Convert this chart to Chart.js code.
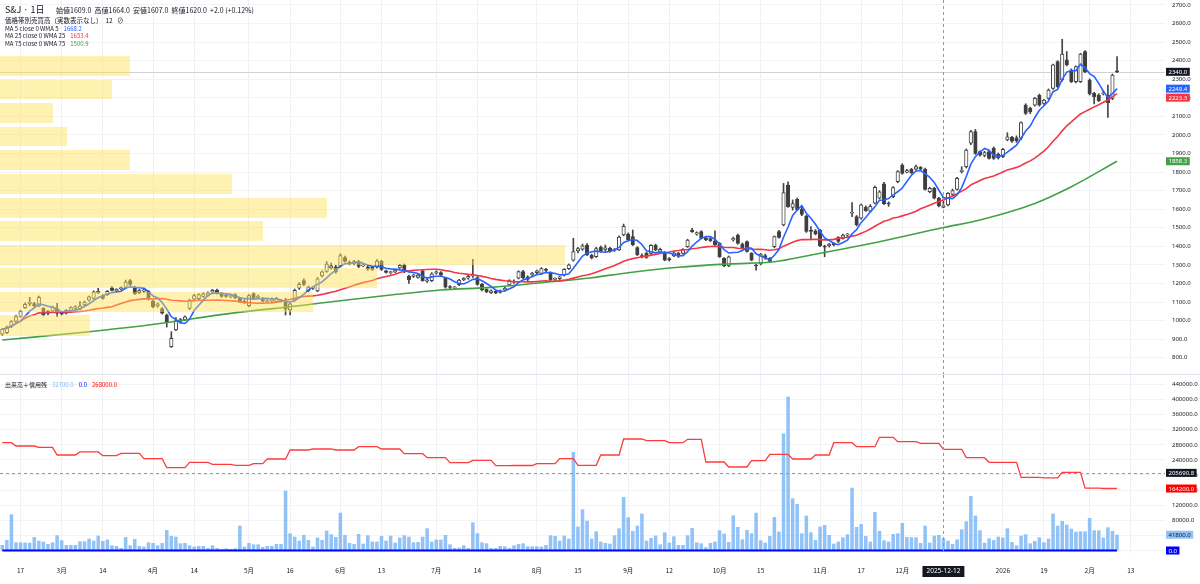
<!DOCTYPE html>
<html lang="ja">
<head>
<meta charset="utf-8">
<title>S&amp;J 日足</title>
<script src="https://cdn.jsdelivr.net/npm/chart.js@4.4.1/dist/chart.umd.min.js"></script>
<style>
  html, body { margin:0; padding:0; background:#fff; }
  body { width:1200px; height:584px; position:relative; overflow:hidden;
         font-family:"Noto Sans CJK JP","Noto Sans",sans-serif; color:#131722; }
  #pane_precio { position:absolute; left:0; top:0; width:1200px; height:374px; }
  #pane_volumen { position:absolute; left:0; top:375px; width:1200px; height:209px; }
  .sep { position:absolute; left:0; top:374px; width:1200px; height:1px; background:#e0e3eb; }
  .lg { position:absolute; left:5px; white-space:nowrap; line-height:1; }
  .lg span { margin-left:5px; }
</style>
</head>
<body>
<div id="pane_precio"><canvas id="chart_precio"></canvas></div>
<div class="sep"></div>
<div id="pane_volumen"><canvas id="chart_volumen"></canvas></div>

<div class="lg" style="top:5px;font-size:9px;">S&amp;J · 1日</div>
<div class="lg" style="top:7px;left:56px;font-size:7px;">始値1609.0 &nbsp;高値1664.0 &nbsp;安値1607.0 &nbsp;終値1620.0 &nbsp;+2.0 (+0.12%)</div>
<div class="lg" style="top:17px;font-size:6.5px;">価格帯別売買高（実数表示なし）&nbsp; 12 &nbsp; ⊘</div>
<div class="lg" style="top:25.5px;font-size:6px;">MA 5 close 0 WMA 5<span style="color:#2962ff">1668.2</span></div>
<div class="lg" style="top:33px;font-size:6px;">MA 25 close 0 WMA 25<span style="color:#f23645">1653.4</span></div>
<div class="lg" style="top:40.5px;font-size:6px;">MA 75 close 0 WMA 75<span style="color:#43a047">1500.9</span></div>
<div class="lg" style="top:382px;font-size:6px;">出来高＋信用残<span style="color:#7fb6f5">32700.0</span><span style="color:#0000ff">0.0</span><span style="color:#ff0000">268000.0</span></div>

<script>
var chart_precio;
var chart_volumen;

// dias sin bolsa (Tokio)
var feriados = ['2025-02-11','2025-02-24','2025-03-20','2025-04-29','2025-05-05','2025-05-06',
  '2025-07-21','2025-08-11','2025-09-15','2025-09-23','2025-10-13','2025-11-03','2025-11-24',
  '2025-12-31','2026-01-01','2026-01-02','2026-01-12'];
var total_velas = 245;   // 2025-02-10 .. 2026-02-10
var dias_futuro = 10;

var etiquetas_x = { '2025-02-17':'17', '2025-03-03':'3月', '2025-03-14':'14', '2025-04-01':'4月',
  '2025-04-14':'14', '2025-05-01':'5月', '2025-05-16':'16', '2025-06-02':'6月', '2025-06-13':'13',
  '2025-07-01':'7月', '2025-07-14':'14', '2025-08-01':'8月', '2025-08-15':'15', '2025-09-01':'9月',
  '2025-09-12':'12', '2025-10-01':'10月', '2025-10-15':'15', '2025-11-04':'11月', '2025-11-17':'17',
  '2025-12-01':'12月', '2026-01-05':'2026', '2026-01-19':'19', '2026-02-02':'2月', '2026-02-13':'13' };

var ticks_precio = [800,900,1000,1100,1200,1300,1400,1500,1600,1700,1800,1900,2000,2100,2200,2300,2400,2500,2600,2700];
var ticks_volumen = [0,40000,80000,120000,160000,200000,240000,280000,320000,360000,400000,440000];

var precio_apertura = [
  927,935,968,995,1022,1070,1090,1092,1078,1066, 1040,1050,1065,1044,1040,1048,1065,1062,1085,1110,
  1120,1150,1135,1140,1177,1160,1170,1178,1215,1180, 1150,1158,1158,1105,1080,1065,1030,860,950,995,
  1005,1066,1115,1118,1130,1135,1152,1163,1145,1135, 1128,1140,1120,1105,1080,1145,1125,1120,1102,1105,
  1102,1110,1100,1058,1110,1175,1215,1160,1175,1160, 1240,1265,1282,1290,1292,1340,1312,1305,1318,1295,
  1290,1288,1288,1320,1268,1258,1262,1284,1300,1240, 1238,1232,1268,1212,1215,1256,1258,1228,1180,1176,
  1193,1220,1228,1240,1232,1195,1168,1150,1158,1152, 1165,1192,1208,1228,1264,1236,1246,1258,1254,1275,
  1258,1222,1226,1246,1280,1326,1375,1384,1407,1352, 1344,1395,1380,1390,1378,1380,1462,1466,1452,1393,
  1350,1362,1362,1405,1372,1366,1334,1348,1362,1362, 1398,1488,1466,1479,1445,1442,1430,1416,1335,1294,
  1434,1461,1412,1425,1362,1298,1305,1350,1335,1398, 1479,1515,1730,1610,1653,1600,1563,1488,1484,1488,
  1400,1402,1416,1448,1443,1460,1578,1560,1551,1610, 1590,1632,1660,1736,1632,1667,1748,1838,1800,1815,
  1815,1825,1815,1694,1712,1659,1609,1623,1680,1707, 1802,1829,1955,2018,1910,1890,1910,1928,1897,1883,
  1973,1987,1985,1982,2161,2143,2161,2215,2170,2197, 2251,2395,2296,2404,2350,2287,2287,2449,2296,2224,
  2215,2222,2215,2197,2344];
var precio_maximo = [
  958,970,1000,1030,1056,1096,1125,1098,1132,1070, 1055,1078,1093,1050,1060,1075,1080,1102,1105,1132,
  1160,1174,1140,1162,1185,1172,1182,1218,1222,1185, 1168,1170,1162,1110,1095,1070,1035,940,1016,1012,
  1025,1115,1142,1145,1150,1155,1168,1170,1150,1140, 1142,1145,1125,1112,1140,1150,1138,1125,1112,1122,
  1125,1115,1120,1095,1170,1205,1225,1186,1185,1232, 1268,1318,1310,1298,1360,1348,1322,1325,1325,1310,
  1296,1292,1328,1325,1272,1266,1275,1304,1305,1245, 1250,1250,1272,1225,1258,1268,1264,1232,1188,1184,
  1222,1232,1245,1330,1238,1200,1172,1165,1162,1165, 1180,1220,1220,1268,1270,1242,1260,1272,1285,1282,
  1262,1230,1240,1280,1305,1443,1395,1412,1415,1358, 1395,1402,1407,1395,1388,1456,1520,1472,1488,1398,
  1360,1368,1410,1412,1390,1372,1340,1370,1368,1388, 1438,1497,1478,1484,1452,1448,1483,1420,1340,1348,
  1450,1466,1418,1430,1366,1305,1362,1358,1340,1456, 1486,1739,1748,1650,1660,1615,1568,1506,1490,1492,
  1406,1416,1420,1452,1466,1470,1635,1566,1628,1618, 1625,1725,1700,1745,1640,1722,1808,1845,1815,1820,
  1838,1830,1822,1718,1718,1664,1664,1690,1708,1772, 1829,1925,2025,2030,1915,1912,1918,1935,1903,1928,
  2012,1992,1995,2070,2168,2150,2202,2220,2192,2248, 2382,2400,2515,2449,2356,2372,2440,2455,2302,2230,
  2222,2238,2269,2328,2422];
var precio_minimo = [
  920,930,962,990,1018,1065,1080,1072,1075,1025, 1030,1045,1021,1030,1035,1045,1060,1058,1080,1105,
  1115,1145,1115,1135,1160,1152,1165,1175,1188,1140, 1145,1152,1110,1068,1072,1035,965,855,945,985,
  1000,1060,1110,1112,1125,1130,1148,1142,1125,1125, 1122,1118,1098,1092,1075,1115,1120,1100,1098,1100,
  1098,1100,1030,1030,1105,1168,1188,1155,1168,1155, 1235,1260,1278,1255,1288,1315,1300,1300,1285,1290,
  1270,1270,1282,1270,1255,1250,1258,1280,1258,1200, 1232,1228,1212,1205,1210,1250,1240,1175,1170,1170,
  1188,1215,1222,1232,1190,1160,1150,1145,1145,1148, 1160,1188,1200,1224,1225,1215,1240,1252,1250,1262,
  1215,1215,1220,1240,1275,1320,1365,1378,1350,1332, 1340,1368,1375,1368,1372,1376,1456,1430,1404,1350,
  1338,1335,1358,1376,1368,1322,1320,1344,1340,1358, 1394,1475,1460,1440,1430,1426,1405,1340,1290,1290,
  1428,1412,1385,1368,1322,1272,1300,1330,1312,1392, 1444,1510,1610,1595,1592,1565,1475,1434,1462,1398,
  1344,1396,1402,1420,1438,1452,1560,1510,1546,1588, 1585,1628,1655,1625,1615,1662,1742,1788,1795,1792,
  1810,1808,1702,1688,1655,1612,1607,1618,1672,1702, 1795,1822,1948,1895,1885,1882,1870,1868,1870,1878,
  1968,1960,1960,1975,2110,2115,2155,2155,2165,2192, 2245,2255,2290,2372,2282,2280,2282,2336,2215,2167,
  2180,2215,2095,2190,2335];
var precio_cierre = [
  953,965,995,1022,1050,1088,1100,1080,1125,1032, 1050,1072,1040,1035,1055,1070,1075,1080,1100,1128,
  1155,1158,1120,1158,1163,1168,1178,1208,1195,1145, 1162,1165,1115,1075,1090,1040,992,905,1000,1005,
  1020,1110,1135,1140,1145,1150,1163,1147,1130,1130, 1135,1123,1102,1100,1134,1120,1132,1105,1108,1118,
  1120,1105,1062,1090,1163,1195,1195,1180,1180,1225, 1262,1305,1295,1262,1350,1318,1308,1318,1292,1300,
  1278,1275,1320,1275,1260,1262,1270,1298,1262,1220, 1245,1245,1215,1220,1252,1262,1245,1180,1178,1180,
  1218,1228,1238,1245,1195,1165,1156,1160,1148,1160, 1174,1215,1212,1264,1230,1222,1254,1268,1280,1270,
  1220,1228,1236,1276,1300,1371,1388,1402,1355,1338, 1388,1372,1392,1372,1383,1450,1508,1435,1408,1355,
  1344,1340,1405,1380,1384,1326,1327,1365,1345,1384, 1434,1479,1474,1443,1436,1430,1407,1344,1294,1344,
  1443,1416,1390,1372,1326,1294,1358,1338,1318,1452, 1448,1689,1614,1630,1596,1572,1480,1480,1466,1402,
  1396,1412,1407,1426,1461,1462,1583,1515,1623,1592, 1615,1718,1694,1630,1628,1716,1802,1793,1808,1797,
  1829,1815,1707,1712,1659,1618,1620,1685,1700,1766, 1811,1919,2018,1901,1892,1905,1874,1874,1876,1922,
  1990,1966,1968,2066,2116,2124,2197,2161,2188,2242, 2377,2260,2436,2377,2287,2368,2436,2341,2221,2206,
  2185,2225,2174,2323,2340];

var volumen = [
  14600,27800,95800,21600,21600,20800,20800,35800,26000,23400, 17200,21600,40200,27000,14600,14600,14600,24300,24300,31300,
  26000,39300,25200,28700,13700,11900,6600,35800,13700,30500, 11900,10200,21600,19900,13700,19900,54300,38400,36600,19000,
  19900,13700,10200,11900,11900,6600,13700,6600,4000,5700, 4000,5700,65800,10200,19900,16300,16300,9300,11900,11900,
  17200,17200,158500,45500,36600,26000,41000,27800,10200,34000, 27800,52500,42800,35800,100000,41000,19900,17200,43700,18100,
  40200,23400,23400,38400,26000,39300,20800,34000,40200,36600, 21600,22500,36600,58700,23400,28700,28700,41000,16300,6600,
  7500,13700,6600,74600,45500,21600,19000,6600,6600,11900, 11000,6600,13700,17200,19000,11000,11000,11000,10200,14600,
  40200,38400,26000,39300,31300,261000,63000,109000,79000,31300, 50800,23400,19900,18100,40200,58700,141700,87900,51700,65800,
  97600,26000,33100,39300,16300,48100,20800,37500,14600,14600, 40200,59600,21600,19000,8400,19900,23400,53400,44600,22500,
  93200,62200,29600,54300,45500,100000,27000,20800,38400,88700, 49900,310000,407500,138200,123200,45500,92300,48100,27800,63100,
  67500,41000,18100,23400,34900,42800,166400,62200,70200,38400, 23400,102000,51700,27000,23400,43700,45500,72800,35800,34900,
  34900,19900,65800,20800,39300,41000,32700,26000,17200,29600, 56100,77300,144400,92300,53400,20800,32200,27800,36600,34000,
  58700,22500,13700,39300,42800,19000,25200,34900,21600,31300, 97600,65800,78100,68400,57800,49900,50800,50800,86100,53400,
  53400,34000,61400,51700,41800];

// 信用残: valor semanal y vela desde la que rige
var credito_valor = [285600,276800,273300,253000,261000,251200,257400,243300,219400,233600,228300,225600,230000,
  242400,266200,268900,266200,275000,268900,256500,245900,232700,238900,224700,225200,230000,243300,225600,253000,
  295400,291000,285600,294500,234400,221200,238000,254700,242400,253000,285600,275000,299800,288300,283900,268000,
  245900,233600,193500,192600,207100,165200,164200];
var credito_desde = [0,3,8,12,17,22,26,31,36,41,46,51,55,58,63,68,73,78,83,88,93,98,103,108,112,117,122,126,131,
  136,141,146,150,154,159,164,168,173,178,182,187,192,196,201,206,211,216,223,228,232,237,241];

var ma75_indice = [0,19,32,50,65,74,85,96,107,118,129,137,148,159,169,177,192,206,214,226,234,244];
var ma75_valor = [895,940,976,1039,1080,1107,1138,1165,1179,1204,1231,1258,1287,1305,1317,1353,1425,1500.9,1542,1631,1721,1858.3];

// valores del eje derecho (ultima vela)
var ultimo_ma5 = 2249.4;
var ultimo_ma25 = 2223.3;
var ultimo_ma75 = 1858.3;

// 価格帯別売買高 (12 filas); volumen relativo, 1165 = ancho total del panel
var perfil_min = [2318,2194,2064,1940,1811,1682,1553,1429,1299,1176,1046,917];
var perfil_max = [2425,2296,2172,2043,1919,1790,1660,1536,1407,1283,1154,1030];
var perfil_volumen = [130,112,53,67,130,232,327,263,565,377,313,90];
var perfil_escala = 1165;

var vela_cursor = 206;       // 2025-12-12
var precio_linea = 2340;
var cursor_volumen = 205690.8;

//Función que se ejecuta al inicio
function init() {
  var fechas = dias_habiles();
  grafico_precio(fechas);
  grafico_volumen(fechas);
}

function dias_habiles() {
  var out = [];
  var d = new Date(Date.UTC(2025, 1, 10));
  while (out.length < total_velas + dias_futuro) {
    var w = d.getUTCDay();
    var s = d.toISOString().slice(0, 10);
    if (w != 0 && w != 6 && (out.length >= total_velas || feriados.indexOf(s) < 0)) out.push(s);
    d.setUTCDate(d.getUTCDate() + 1);
  }
  return out;
}

function media(src, n) {
  var out = [];
  for (var i = 0; i < src.length; i++) {
    var desde = Math.max(0, i - n + 1), s = 0;
    for (var j = desde; j <= i; j++) s += src[j];
    out.push(s / (i - desde + 1));
  }
  return out;
}

function color_grid(fechas) {
  return function (c) { return etiquetas_x[fechas[c.index]] ? '#eef0f3' : 'rgba(0,0,0,0)'; };
}

function fijar_ticks(lista) {
  return function (s) { s.ticks = lista.map(function (v) { return { value: v }; }); };
}

function sin_padding_x(alto) {
  return function (s) { s.height = alto; s.paddingLeft = 0; s.paddingRight = 0; };
}

function dibujar_etiquetas(chart, items) {
  var ctx = chart.ctx, ys = chart.scales.y, area = chart.chartArea;
  var lista = items.map(function (it) { return Object.assign({ py: ys.getPixelForValue(it.v) }, it); });
  lista.sort(function (a, b) { return a.py - b.py; });
  for (var i = 1; i < lista.length; i++) {
    if (lista[i].py - lista[i - 1].py < 9) lista[i].py = lista[i - 1].py + 9;
  }
  ctx.save();
  ctx.font = '6px "Noto Sans", sans-serif';
  ctx.textBaseline = 'middle';
  lista.forEach(function (it) {
    var w = ctx.measureText(it.texto).width + 5;
    ctx.fillStyle = it.fondo;
    ctx.fillRect(area.right + 1, it.py - 4, w, 8);
    ctx.fillStyle = it.color;
    ctx.fillText(it.texto, area.right + 3.5, it.py + 0.5);
  });
  ctx.restore();
}

function linea_cursor(chart) {
  var ctx = chart.ctx, area = chart.chartArea;
  var x = chart.scales.x.getPixelForValue(vela_cursor);
  ctx.save();
  ctx.strokeStyle = '#9598a1';
  ctx.lineWidth = 1;
  ctx.setLineDash([3, 3]);
  ctx.beginPath();
  ctx.moveTo(Math.round(x) + 0.5, area.top);
  ctx.lineTo(Math.round(x) + 0.5, area.bottom);
  ctx.stroke();
  ctx.restore();
}

function grafico_precio(fechas) {

  var ma5 = media(precio_cierre, 5);
  var ma25 = media(precio_cierre, 25);
  var ma75 = [];
  ma75_indice.forEach(function (k, i) { ma75[k] = ma75_valor[i]; });

  var cuerpos = [], mechas = [], colores = [];
  for (var i = 0; i < precio_cierre.length; i++) {
    cuerpos.push([precio_apertura[i], precio_cierre[i]]);
    mechas.push([precio_minimo[i], precio_maximo[i]]);
    colores.push(precio_cierre[i] >= precio_apertura[i] ? '#ffffff' : '#3d3d3d');
  }

  var plugin_precio = {
    id: 'extras_precio',
    beforeDatasetsDraw: function (chart) {
      var ctx = chart.ctx, area = chart.chartArea;
      var y = Math.round(chart.scales.y.getPixelForValue(precio_linea)) + 0.5;
      ctx.save();
      ctx.strokeStyle = '#cfd1d6';
      ctx.lineWidth = 1;
      ctx.beginPath(); ctx.moveTo(area.left, y); ctx.lineTo(area.right, y); ctx.stroke();
      ctx.restore();
    },
    afterDatasetsDraw: function (chart) {
      var ctx = chart.ctx, ys = chart.scales.y, xs = chart.scales.x;
      ctx.save();
      ctx.fillStyle = 'rgba(255,224,80,0.45)';
      for (var i = 0; i < perfil_volumen.length; i++) {
        var y1 = ys.getPixelForValue(perfil_max[i]);
        var y2 = ys.getPixelForValue(perfil_min[i]);
        var ancho = perfil_volumen[i] / perfil_escala * xs.width;
        ctx.fillRect(xs.left, y1, ancho, y2 - y1);
      }
      ctx.restore();
      linea_cursor(chart);
    },
    afterDraw: function (chart) {
      dibujar_etiquetas(chart, [
        { v: precio_linea, texto: precio_linea.toFixed(1), fondo: '#131722', color: '#ffffff' },
        { v: ultimo_ma5, texto: ultimo_ma5.toFixed(1), fondo: '#2962ff', color: '#ffffff' },
        { v: ultimo_ma25, texto: ultimo_ma25.toFixed(1), fondo: '#f23645', color: '#ffffff' },
        { v: ultimo_ma75, texto: ultimo_ma75.toFixed(1), fondo: '#43a047', color: '#ffffff' }
      ]);
    }
  };

  chart_precio = new Chart(document.getElementById('chart_precio'), {
    type: 'bar',
    data: {
      labels: fechas,
      datasets: [
        { type: 'line', label: 'MA5', data: ma5, borderColor: '#2962ff', borderWidth: 1.6, pointRadius: 0, order: 0 },
        { type: 'line', label: 'MA25', data: ma25, borderColor: '#f23645', borderWidth: 1.6, pointRadius: 0, order: 0 },
        { type: 'line', label: 'MA75', data: ma75, borderColor: '#43a047', borderWidth: 1.6, pointRadius: 0, order: 0,
          spanGaps: true, cubicInterpolationMode: 'monotone' },
        { label: 'cuerpo', data: cuerpos, backgroundColor: colores, borderColor: '#444444', borderWidth: 1,
          borderSkipped: false, barThickness: 3.5, minBarLength: 1, grouped: false, order: 1 },
        { label: 'mecha', data: mechas, backgroundColor: '#444444', barThickness: 1, grouped: false, order: 2 }
      ]
    },
    options: {
      responsive: true,
      maintainAspectRatio: false,
      animation: false,
      layout: { padding: 0 },
      plugins: { legend: { display: false }, tooltip: { enabled: false } },
      scales: {
        x: {
          offset: true,
          grid: { offset: false, drawTicks: false, color: color_grid(fechas) },
          border: { display: false },
          ticks: { display: false, autoSkip: false },
          afterFit: sin_padding_x(0)
        },
        y: {
          position: 'right',
          min: 712.2, max: 2726.9,
          grid: { color: '#f2f3f5', drawTicks: false },
          border: { display: false },
          afterBuildTicks: fijar_ticks(ticks_precio),
          ticks: { padding: 7, color: '#131722',
                   font: { size: 6, family: 'Noto Sans' },
                   callback: function (v) { return v.toFixed(1); } },
          afterFit: function (s) { s.width = 35; s.paddingTop = 0; s.paddingBottom = 0; }
        }
      }
    },
    plugins: [plugin_precio]
  });
}

function grafico_volumen(fechas) {

  var credito = [];
  for (var i = 0; i < credito_valor.length; i++) {
    var hasta = i + 1 < credito_desde.length ? credito_desde[i + 1] : total_velas;
    for (var k = credito_desde[i]; k < hasta; k++) credito[k] = credito_valor[i];
  }
  var cero = [];
  cero[0] = 0;
  cero[total_velas - 1] = 0;

  var plugin_volumen = {
    id: 'extras_volumen',
    afterDatasetsDraw: function (chart) {
      var ctx = chart.ctx, area = chart.chartArea;
      var y = Math.round(chart.scales.y.getPixelForValue(cursor_volumen)) + 0.5;
      ctx.save();
      ctx.strokeStyle = '#9598a1';
      ctx.lineWidth = 1;
      ctx.setLineDash([3, 3]);
      ctx.beginPath(); ctx.moveTo(area.left, y); ctx.lineTo(area.right, y); ctx.stroke();
      ctx.restore();
      linea_cursor(chart);
    },
    afterDraw: function (chart) {
      var n = total_velas - 1;
      dibujar_etiquetas(chart, [
        { v: cursor_volumen, texto: cursor_volumen.toFixed(1), fondo: '#131722', color: '#ffffff' },
        { v: credito[n], texto: credito[n].toFixed(1), fondo: '#ff0000', color: '#ffffff' },
        { v: volumen[n], texto: volumen[n].toFixed(1), fondo: '#90c2f8', color: '#131722' },
        { v: 0, texto: '0.0', fondo: '#0000ff', color: '#ffffff' }
      ]);
      // fecha del cursor
      var ctx = chart.ctx, xs = chart.scales.x;
      var x = xs.getPixelForValue(vela_cursor);
      var texto = fechas[vela_cursor];
      ctx.save();
      ctx.font = '6.5px "Noto Sans", sans-serif';
      var w = ctx.measureText(texto).width + 8;
      ctx.fillStyle = '#131722';
      ctx.fillRect(x - w / 2, chart.chartArea.bottom + 13, w, 11);
      ctx.fillStyle = '#ffffff';
      ctx.textAlign = 'center';
      ctx.textBaseline = 'middle';
      ctx.fillText(texto, x, chart.chartArea.bottom + 18.5);
      ctx.restore();
    }
  };

  chart_volumen = new Chart(document.getElementById('chart_volumen'), {
    type: 'bar',
    data: {
      labels: fechas,
      datasets: [
        { type: 'line', label: '0.0', data: cero, borderColor: '#0000ff', borderWidth: 2, pointRadius: 0,
          spanGaps: true, order: 0 },
        { type: 'line', label: '信用残', data: credito, borderColor: '#ff3b3b', borderWidth: 1.3, pointRadius: 0, order: 1 },
        { label: '出来高', data: volumen, backgroundColor: 'rgba(100,170,245,0.7)', categoryPercentage: 1,
          barPercentage: 0.78, order: 2 }
      ]
    },
    options: {
      responsive: true,
      maintainAspectRatio: false,
      animation: false,
      layout: { padding: 0 },
      plugins: { legend: { display: false }, tooltip: { enabled: false } },
      scales: {
        x: {
          offset: true,
          grid: { offset: false, drawTicks: false, color: color_grid(fechas) },
          border: { display: false },
          ticks: { autoSkip: false, maxRotation: 0, padding: 14, color: '#131722',
                   font: { size: 6.5, family: 'Noto Sans CJK JP' },
                   callback: function (v, i) { return etiquetas_x[fechas[i]] || ''; } },
          afterFit: sin_padding_x(31)
        },
        y: {
          position: 'right',
          min: -6623, max: 464900,
          grid: { color: '#f2f3f5', drawTicks: false },
          border: { display: false },
          afterBuildTicks: fijar_ticks(ticks_volumen),
          ticks: { padding: 7, color: '#131722',
                   font: { size: 6, family: 'Noto Sans' },
                   callback: function (v) { return v >= 80000 ? v.toFixed(1) : ''; } },
          afterFit: function (s) { s.width = 35; s.paddingTop = 0; s.paddingBottom = 0; }
        }
      }
    },
    plugins: [plugin_volumen]
  });
}

init();
</script>
</body>
</html>
